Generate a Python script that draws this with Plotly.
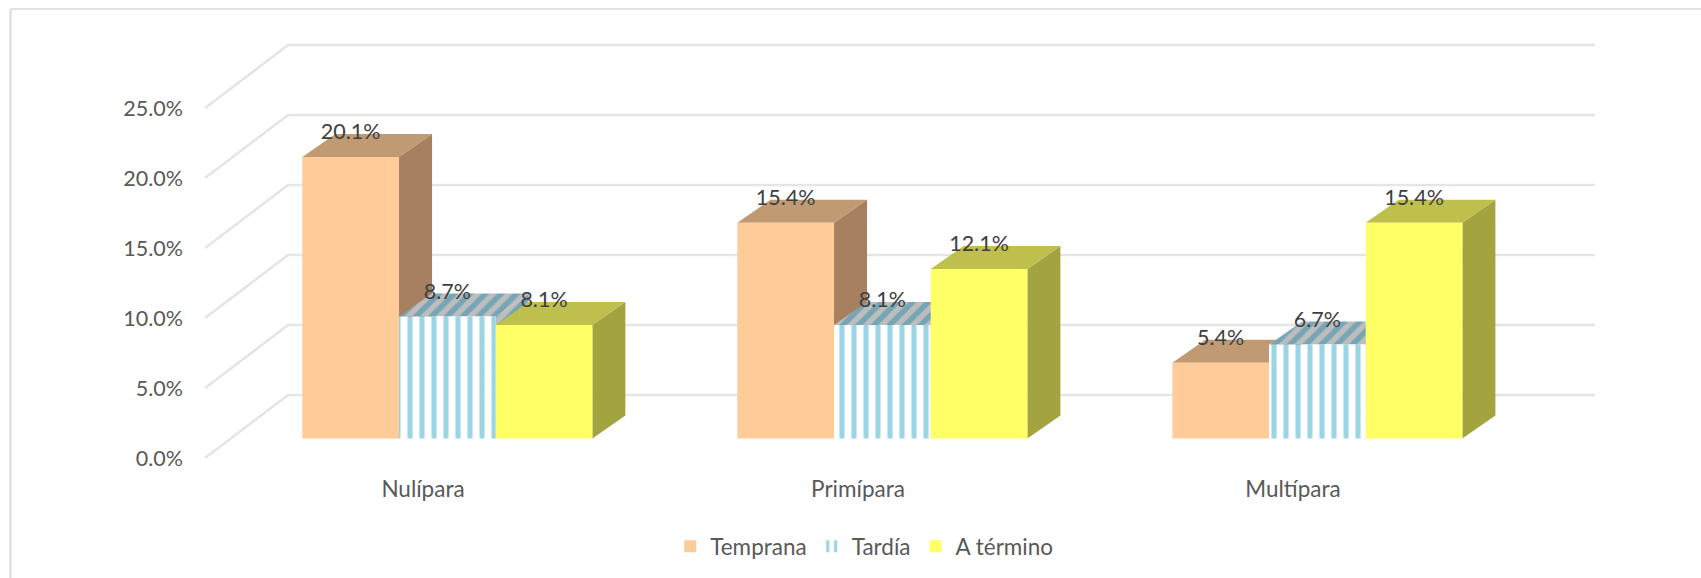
import plotly.graph_objects as go

categories = ['Nulípara', 'Primípara', 'Multípara']
temprana = [20.1, 15.4, 5.4]
tardia = [8.7, 8.1, 6.7]
a_termino = [8.1, 12.1, 15.4]
y_ticks = [0, 5, 10, 15, 20, 25]
y_tick_labels = ['0.0%', '5.0%', '10.0%', '15.0%', '20.0%', '25.0%']

# fake 3D: the floor runs back by FLOOR_DX / FLOOR_DY in axis units
FLOOR_DX = 0.1908
FLOOR_DY = 4.5
BAR_OFFSET_X = 0.056  # bars sit a little way back on the floor
BAR_OFFSET_Y = 1.4
BAR_DX = 0.0759       # depth of a bar
BAR_DY = 1.643
BAR_W = 2 / 9

x_range = [-0.5402, 2.7057]
y_range = [-0.857, 32.714]
x_pos = [i + BAR_OFFSET_X for i in range(len(categories))]
base = BAR_OFFSET_Y

series = [
    dict(name='Temprana', values=temprana, shift=-1, front='#FFCC99', top='#BF9A72', side='#A68060'),
    dict(name='Tardía', values=tardia, shift=0, front='#FFFFFF', top='#BDBDBD', side='#9AA8AE',
         stripe='#9AD4E5', stripe_dark='#76A6B6'),
    dict(name='A término', values=a_termino, shift=1, front='#FFFF66', top='#BFBF4D', side='#A3A33F'),
]

font_family = 'Lato'
fig = go.Figure()

# walls: one polyline per tick, front of the floor -> back wall -> right end
grid_x, grid_y = [], []
for t in y_ticks:
    grid_x += [-0.501, -0.501 + FLOOR_DX, 2.694, None]
    grid_y += [t, t + FLOOR_DY, t + FLOOR_DY, None]
fig.add_trace(go.Scatter(x=grid_x, y=grid_y, mode='lines', line=dict(color='#E5E5E5', width=2.5),
                         showlegend=False, hoverinfo='skip'))

# side and top faces go on the lower y axis, the front faces overlay them
for s in series:
    for x0, v in zip(x_pos, s['values']):
        left = x0 + (s['shift'] - 0.5) * BAR_W
        right = left + BAR_W
        y0 = base
        y1 = base + v
        pattern = None
        if 'stripe' in s:
            pattern = dict(shape='/', fgcolor=s['stripe_dark'], bgcolor=s['top'], size=11, solidity=0.5,
                           fgopacity=1)
        fig.add_trace(go.Scatter(
            x=[right, right + BAR_DX, right + BAR_DX, right, right],
            y=[y0, y0 + BAR_DY, y1 + BAR_DY, y1, y0],
            mode='lines', fill='toself', fillcolor=s['side'], line=dict(width=0),
            fillpattern=pattern, showlegend=False, hoverinfo='skip'))
        fig.add_trace(go.Scatter(
            x=[left, right, right + BAR_DX, left + BAR_DX, left],
            y=[y1, y1, y1 + BAR_DY, y1 + BAR_DY, y1],
            mode='lines', fill='toself', fillcolor=s['top'], line=dict(width=0),
            fillpattern=pattern, showlegend=False, hoverinfo='skip'))

for s in series:
    marker = dict(color=s['front'], line=dict(width=0))
    if 'stripe' in s:
        marker['pattern'] = dict(shape='|', fgcolor=s['stripe'], bgcolor='#FFFFFF', size=12, solidity=0.42,
                                 fgopacity=1)
    fig.add_trace(go.Bar(x=x_pos, y=s['values'], base=base, name=s['name'], marker=marker, yaxis='y2'))

# data labels sit on the back edge of each bar top
for s in series:
    fig.add_trace(go.Scatter(
        x=[x0 + s['shift'] * BAR_W for x0 in x_pos],
        y=[base + v + BAR_DY for v in s['values']],
        mode='text', text=[f'{v:.1f}%' for v in s['values']], textposition='middle center',
        textfont=dict(family=font_family, size=21.5, color='#404040'),
        yaxis='y2', showlegend=False, hoverinfo='skip'))

fig.update_layout(
    width=1701, height=578,
    margin=dict(l=188, r=101, t=0, b=108, autoexpand=False),
    paper_bgcolor='white', plot_bgcolor='white',
    barmode='group', bargap=1 / 3, bargroupgap=0,
    font=dict(family=font_family, size=21.5, color='#595959'),
    xaxis=dict(range=x_range, tickvals=[0, 1, 2], ticktext=categories, showgrid=False, zeroline=False,
               ticks='', showline=False, ticklabelstandoff=3, tickfont=dict(size=22.5)),
    yaxis=dict(range=y_range, tickvals=y_ticks, ticktext=y_tick_labels, showgrid=False, zeroline=False,
               ticks='', showline=False, ticklabelstandoff=4),
    yaxis2=dict(range=y_range, overlaying='y', visible=False),
    legend=dict(orientation='h', x=0.3415, y=-0.163, xanchor='left', yanchor='middle',
                font=dict(family=font_family, size=22.5, color='#595959'), traceorder='normal'),
    showlegend=True,
    shapes=[
        dict(type='line', xref='paper', yref='paper', x0=-0.1253, x1=1.0716, y0=0.9809, y1=0.9809,
             line=dict(color='#D9D9D9', width=1.5)),
        dict(type='line', xref='paper', yref='paper', x0=-0.1257, x1=-0.1257, y0=0.9809, y1=-0.2298,
             line=dict(color='#D9D9D9', width=2)),
    ],
)

# the page's default body margin would push the whole chart off by 8px
fig.write_html('out.html', config=dict(displayModeBar=False),
               post_script="document.body.style.margin='0';")
